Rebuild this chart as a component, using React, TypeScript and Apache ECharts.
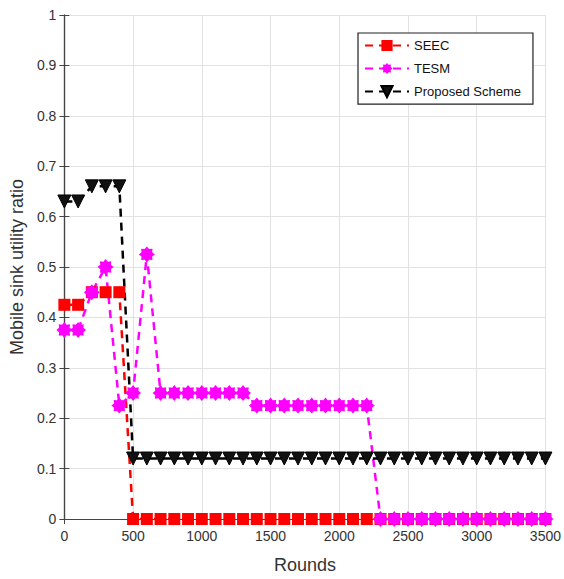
import React, { useEffect, useRef } from "react";
import * as echarts from "echarts";

const rounds = [0, 100, 200, 300, 400, 500, 600, 700, 800, 900, 1000, 1100, 1200, 1300, 1400, 1500, 1600, 1700, 1800, 1900, 2000, 2100, 2200, 2300, 2400, 2500, 2600, 2700, 2800, 2900, 3000, 3100, 3200, 3300, 3400, 3500];
const seec = [0.425, 0.425, 0.45, 0.45, 0.45, 0, 0, 0, 0, 0, 0, 0, 0, 0, 0, 0, 0, 0, 0, 0, 0, 0, 0, 0, 0, 0, 0, 0, 0, 0, 0, 0, 0, 0, 0, 0];
const tesm = [0.375, 0.375, 0.45, 0.5, 0.225, 0.25, 0.525, 0.25, 0.25, 0.25, 0.25, 0.25, 0.25, 0.25, 0.225, 0.225, 0.225, 0.225, 0.225, 0.225, 0.225, 0.225, 0.225, 0, 0, 0, 0, 0, 0, 0, 0, 0, 0, 0, 0, 0];
const proposed = [0.63, 0.63, 0.66, 0.66, 0.66, 0.12, 0.12, 0.12, 0.12, 0.12, 0.12, 0.12, 0.12, 0.12, 0.12, 0.12, 0.12, 0.12, 0.12, 0.12, 0.12, 0.12, 0.12, 0.12, 0.12, 0.12, 0.12, 0.12, 0.12, 0.12, 0.12, 0.12, 0.12, 0.12, 0.12, 0.12];
const seriesNames = ["SEEC", "TESM", "Proposed Scheme"];

function starPath(): string {
  const pts: string[] = [];
  const n = 8;
  for (let i = 0; i < n * 2; i++) {
    const r = i % 2 === 0 ? 10 : 7.2;
    const a = (Math.PI * i) / n - Math.PI / 2;
    pts.push(`${(10 + r * Math.cos(a)).toFixed(2)} ${(10 + r * Math.sin(a)).toFixed(2)}`);
  }
  return "path://M" + pts.join(" L") + " Z";
}

export default function App() {
  const ref = useRef<HTMLDivElement>(null);
  useEffect(() => {
    if (!ref.current) return;
    const chart = echarts.init(ref.current, null, { renderer: "svg" });
    const font = "Liberation Sans, Arial, sans-serif";
    const pair = (arr: number[]) => rounds.map((r, i) => [r, arr[i]]);
    chart.setOption({
      animation: false,
      backgroundColor: "#fff",
      textStyle: { fontFamily: font },
      grid: { left: 59, right: 17, top: 15, bottom: 58 },
      legend: {
        orient: "vertical",
        left: 358,
        top: 33,
        width: 174,
        backgroundColor: "#fff",
        borderColor: "#222",
        borderWidth: 1.2,
        padding: [6, 12, 6, 6],
        itemWidth: 44,
        itemHeight: 14,
        itemGap: 10,
        textStyle: { fontFamily: font, fontSize: 13, color: "#111" },
        data: seriesNames,
      },
      xAxis: [
        {
          type: "value",
          min: 0,
          max: 3500,
          interval: 500,
          name: "Rounds",
          nameLocation: "middle",
          nameGap: 37,
          nameTextStyle: { fontSize: 18, color: "#333", fontFamily: font },
          axisLine: { lineStyle: { color: "#444", width: 1.2 } },
          axisTick: { inside: true, length: 5, lineStyle: { color: "#444" } },
          axisLabel: { fontSize: 14, color: "#333", margin: 10, fontFamily: font, formatter: (v: number) => String(v) },
          splitLine: { show: true, lineStyle: { color: "#e2e2e2", width: 1 } },
        },
        {
          type: "value",
          position: "top",
          min: 0,
          max: 3500,
          interval: 500,
          axisLine: { show: true, lineStyle: { color: "#444", width: 1.2 } },
          axisTick: { show: true, inside: true, length: 5, lineStyle: { color: "#444" } },
          axisLabel: { show: false },
          splitLine: { show: false },
        },
      ],
      yAxis: [
        {
          type: "value",
          min: 0,
          max: 1,
          interval: 0.1,
          name: "Mobile sink utility ratio",
          nameLocation: "middle",
          nameGap: 34,
          nameTextStyle: { fontSize: 18, color: "#333", fontFamily: font },
          axisLine: { show: true, lineStyle: { color: "#444", width: 1.2 } },
          axisTick: { show: true, inside: true, length: 5, lineStyle: { color: "#444" } },
          axisLabel: { fontSize: 14, color: "#333", margin: 8, fontFamily: font },
          splitLine: { show: true, lineStyle: { color: "#e2e2e2", width: 1 } },
        },
        {
          type: "value",
          position: "right",
          min: 0,
          max: 1,
          interval: 0.1,
          axisLine: { show: true, lineStyle: { color: "#444", width: 1.2 } },
          axisTick: { show: true, inside: true, length: 5, lineStyle: { color: "#444" } },
          axisLabel: { show: false },
          splitLine: { show: false },
        },
      ],
      series: [
        {
          name: "SEEC",
          type: "line",
          data: pair(seec),
          symbol: "rect",
          symbolSize: 12,
          showAllSymbol: true,
          itemStyle: { color: "#ff0000" },
          lineStyle: { color: "#ff0000", width: 2.5, type: [8, 6] },
        },
        {
          name: "TESM",
          type: "line",
          data: pair(tesm),
          symbol: starPath(),
          symbolSize: 16,
          showAllSymbol: true,
          itemStyle: { color: "#ff00ff" },
          lineStyle: { color: "#ff00ff", width: 2.5, type: [8, 6] },
        },
        {
          name: "Proposed Scheme",
          type: "line",
          data: pair(proposed),
          symbol: "triangle",
          symbolRotate: 180,
          symbolSize: 13,
          showAllSymbol: true,
          itemStyle: { color: "#111", borderColor: "#000", borderWidth: 1 },
          lineStyle: { color: "#000", width: 2.5, type: [8, 6] },
        },
      ],
    });
    return () => chart.dispose();
  }, []);
  return <div ref={ref} style={{ position: "absolute", left: 0, top: 0, width: 564, height: 579 }} />;
}
